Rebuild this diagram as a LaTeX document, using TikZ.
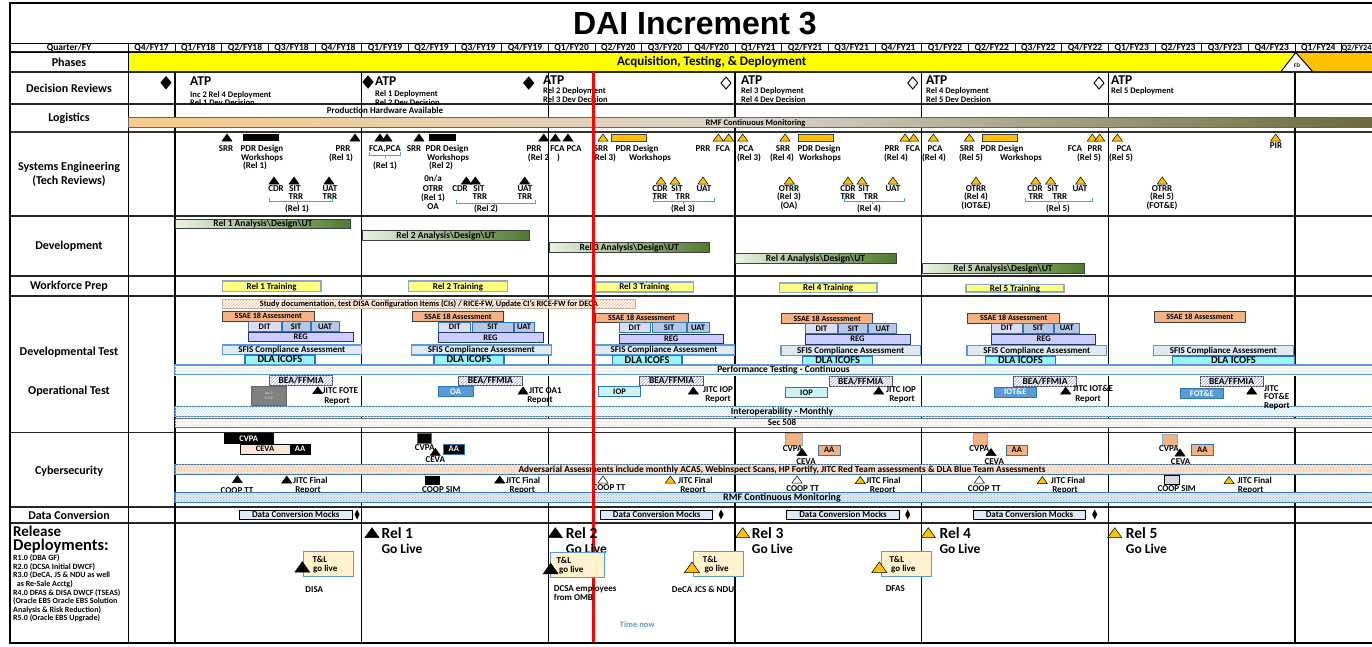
\documentclass[tikz,border=0pt]{standalone}
\usepackage{fontspec}
\setmainfont{Carlito}
\newfontfamily\titlefont{Liberation Sans}
\usetikzlibrary{patterns}

\definecolor{phaseyel}{HTML}{FFFF00}
\definecolor{phaseorg}{HTML}{FFC000}
\definecolor{msorg}{HTML}{FFC000}
\definecolor{logl}{HTML}{F8CB8C}
\definecolor{logm}{HTML}{D9D4CA}
\definecolor{logr}{HTML}{6B683A}
\definecolor{devl}{HTML}{EAF3E3}
\definecolor{devr}{HTML}{4E7A2C}
\definecolor{trainy}{HTML}{FFFF80}
\definecolor{bluegray}{HTML}{8FAAC8}
\definecolor{peach}{HTML}{F4B183}
\definecolor{lpeach}{HTML}{FBE5D6}
\definecolor{ditc}{HTML}{DCDCF7}
\definecolor{sitc}{HTML}{B4C7E7}
\definecolor{regc}{HTML}{CCCCFF}
\definecolor{navy}{HTML}{1F3864}
\definecolor{sfisc}{HTML}{DEEBF7}
\definecolor{midblue}{HTML}{5B9BD5}
\definecolor{darkblue}{HTML}{2E75B6}
\definecolor{icofsc}{HTML}{99F5F5}
\definecolor{iopc}{HTML}{CCF2F8}
\definecolor{beac}{HTML}{A6A6D9}
\definecolor{lblue}{HTML}{BDD7EE}
\definecolor{tlc}{HTML}{FFF2CC}
\definecolor{timered}{HTML}{FF0000}

\tikzset{
  rowline/.style={line width=1.2pt, draw=black!85},
  yearline/.style={line width=1.5pt, draw=black},
  rowlbl/.style={inner sep=0pt, align=center, font=\bfseries\fontsize{12}{14.5}\selectfont},
  qlbl/.style={inner sep=0pt, font=\bfseries\fontsize{9.5}{10}\selectfont, text height=6pt, text depth=0pt},
  mslbl/.style={inner sep=0pt, font=\bfseries\fontsize{9}{9}\selectfont, text height=5.8pt, text depth=0pt},
  leftlbl/.style={mslbl, anchor=west},
  atplbl/.style={inner sep=0pt, anchor=west, font=\bfseries\fontsize{13.5}{14}\selectfont, text height=8.7pt, text depth=0pt},
  declbl/.style={inner sep=0pt, anchor=west, font=\bfseries\fontsize{8.5}{9}\selectfont, text height=5.5pt, text depth=0pt},
  rellbl/.style={inner sep=0pt, anchor=west, font=\bfseries\fontsize{15.5}{16}\selectfont, text height=10pt, text depth=0pt},
  golbl/.style={inner sep=0pt, anchor=west, font=\bfseries\fontsize{13.5}{14}\selectfont, text height=8.7pt, text depth=0pt},
  bracecol/.style={draw=midblue, line width=0.6pt},
  taskbox/.style={draw, line width=0.8pt, inner sep=0pt, outer sep=0pt, font=\bfseries\fontsize{8.5}{9}\selectfont, text height=5.5pt, text depth=0pt},
  devbar/.style={taskbox, draw=black!75, left color=devl, right color=devr, font=\bfseries\fontsize{9.5}{9}\selectfont},
  trainbar/.style={taskbox, fill=trainy, draw=bluegray, line width=1.2pt, font=\bfseries\fontsize{9}{9}\selectfont},
  studybar/.style={taskbox, draw=black!30, fill=white, postaction={pattern=north east lines, pattern color=peach}, font=\bfseries\fontsize{8.3}{8}\selectfont},
  ssaebar/.style={taskbox, fill=peach, draw=black!75, font=\bfseries\fontsize{8}{8}\selectfont},
  ditbar/.style={taskbox, fill=ditc, draw=darkblue},
  sitbar/.style={taskbox, fill=sitc, draw=darkblue},
  regbar/.style={taskbox, fill=regc, draw=navy, line width=1pt},
  sfisbar/.style={taskbox, fill=sfisc, draw=midblue, line width=1.2pt, font=\bfseries\fontsize{9}{9}\selectfont},
  icofsbar/.style={taskbox, fill=icofsc, draw=darkblue, line width=1.2pt, font=\bfseries\fontsize{10.5}{9}\selectfont, text height=6pt},
  beabar/.style={taskbox, draw=black!70, fill=white, postaction={pattern=north east lines, pattern color=beac}, font=\bfseries\fontsize{9.5}{9}\selectfont},
  otbox/.style={taskbox, fill=midblue, draw=darkblue, text=white},
  iopbox/.style={taskbox, fill=iopc, draw=darkblue},
  longbar/.style={taskbox, line width=1.5pt},
  cvpabox/.style={taskbox, fill=black, draw=black, text=white},
  cevabox/.style={taskbox, fill=lpeach, draw=black},
  aabox/.style={taskbox, fill=peach, draw=darkblue, line width=1pt},
  mockbox/.style={taskbox, fill=sfisc, draw=black, line width=1pt, font=\bfseries\fontsize{9}{9}\selectfont},
  tlbox/.style={taskbox, fill=tlc, draw=midblue, line width=1pt}
}

% bar as a node: name, style, x1, x2, y1, y2, text
\newcommand{\taskbar}[7]{%
  \pgfmathsetmacro{\bw}{#4-#3}%
  \pgfmathsetmacro{\bh}{#6-#5}%
  \node[#2, anchor=north west, minimum width=\bw pt, minimum height=\bh pt] (#1) at (#3,#5) {#7};
}
% milestone triangle: [scale] x, top y, fill
\newcommand{\mstone}[4][1]{%
  \filldraw[fill=#4, draw=black, line width=0.5pt] (#2-5*#1,#3+7*#1) -- (#2,#3) -- (#2+5*#1,#3+7*#1) -- cycle;
}
% release bracket: x1, x2, middle, y
\newcommand{\relbrace}[4]{%
  \draw[bracecol] (#1,#4-3) -- (#1,#4) -- (#2,#4) -- (#2,#4-3) (#3,#4) -- (#3,#4+2.5);
}
\newcommand{\decdia}[3]{%
  \filldraw[fill=#3, draw=black, line width=0.9pt] (#1,#2-6) -- (#1+5,#2) -- (#1,#2+6) -- (#1-5,#2) -- cycle;
}
\newcommand{\mockdia}[2]{%
  \fill (#1,#2-5) -- (#1+2.5,#2) -- (#1,#2+5) -- (#1-2.5,#2) -- cycle;
}

\begin{document}
\begin{tikzpicture}[x=1pt,y=-1pt]
\useasboundingbox (0,0) rectangle (1372,646);
\clip (0,0) rectangle (1372,646);
\fill[white] (0,0) rectangle (1372,646);

% title
\node[inner sep=0pt, font=\titlefont\bfseries\fontsize{32}{32}\selectfont] (title) at (695,23.5) {DAI Increment 3};

% phases
\fill[phaseyel] (128.3,52) rectangle (1295,72);
\fill[phaseorg] (1295,52) rectangle (1380,72);
\filldraw[fill=white, draw=black, line width=1pt] (1280.7,72) -- (1295.7,52.5) -- (1313,72) -- cycle;
\node[inner sep=0pt, font=\bfseries\fontsize{5.5}{6}\selectfont] (fd) at (1297,66) {FD};
\node[inner sep=0pt, font=\bfseries\fontsize{13}{13}\selectfont] (phase) at (711.7,62) {Acquisition, Testing, \& Deployment};

% grid
\foreach \ry in {52,72,104,216,276,296,432.5,507,523}
  \draw[rowline] (10,\ry) -- (1380,\ry);
\draw[line width=2pt, draw=black!80] (10,132) -- (1380,132);
\draw[line width=1.5pt] (128.3,43) -- (128.3,643);
\foreach \yx in {175,361.6,548.3,735,921.7,1108.4,1295}
  \draw[yearline] (\yx,72) -- (\yx,643);

% quarter header
\draw[line width=0.8pt] (10,43) rectangle (128.3,52);
\node[qlbl] (qfy) at (69,47.7) {Quarter/FY};
\foreach \ql [count=\i from 0] in {Q4/FY17,Q1/FY18,Q2/FY18,Q3/FY18,Q4/FY18,Q1/FY19,Q2/FY19,Q3/FY19,Q4/FY19,Q1/FY20,Q2/FY20,Q3/FY20,Q4/FY20,Q1/FY21,Q2/FY21,Q3/FY21,Q4/FY21,Q1/FY22,Q2/FY22,Q3/FY22,Q4/FY22,Q1/FY23,Q2/FY23,Q3/FY23,Q4/FY23,Q1/FY24} {
  \pgfmathsetmacro{\qx}{128.3+46.67*\i}
  \draw[line width=0.8pt] (\qx,43) rectangle ++(46.67,9);
  \node[qlbl] (q\i) at (\qx+23.3,47.7) {\ql};
}
\draw[line width=0.8pt] (1341.7,43) rectangle ++(46.67,9);
\node[qlbl, font=\bfseries\fontsize{8.3}{9}\selectfont] (q26) at (1356.5,47.7) {Q2/FY24};

% row labels
\node[rowlbl] (lphase) at (69,62) {Phases};
\node[rowlbl] (ldec) at (69,88) {Decision Reviews};
\node[rowlbl] (llog) at (69,118) {Logistics};
\node[rowlbl] (lse) at (69,174) {Systems Engineering\\(Tech Reviews)};
\node[rowlbl] (ldev) at (69,246.7) {Development};
\node[rowlbl] (lwf) at (69,286.5) {Workforce Prep};
\node[rowlbl] (ldt) at (69,352.3) {Developmental Test};
\node[rowlbl] (lot) at (69,391.7) {Operational Test};
\node[rowlbl] (lcy) at (69,471) {Cybersecurity};
\node[rowlbl] (ldc) at (69,515) {Data Conversion};
\node[inner sep=0pt, anchor=west, font=\bfseries\fontsize{15}{15}\selectfont] (lrel) at (13,531) {Release};
\node[inner sep=0pt, anchor=west, font=\bfseries\fontsize{16.5}{16}\selectfont] (ldep) at (13,546) {Deployments:};
\node[inner sep=0pt, anchor=north west, align=left, font=\bfseries\fontsize{8}{8.6}\selectfont] (rdlist) at (13,554.5) {R1.0 (DBA GF)\\R2.0 (DCSA Initial DWCF)\\R3.0 (DeCA, JS \& NDU as well\\\ \ as Re-Sale Acctg)\\R4.0 DFAS \& DISA DWCF (TSEAS)\\(Oracle EBS Oracle EBS Solution\\Analysis \& Risk Reduction)\\R5.0 (Oracle EBS Upgrade)};

% decision reviews
\decdia{166}{82.7}{black}
\node[atplbl] (atp1) at (190,81.5) {ATP};
\node[declbl] (atp1a) at (190,95) {Inc 2 Rel 4 Deployment};
\node[declbl] (atp1b) at (190,102.5) {Rel 1 Dev Decision};
\decdia{368}{82}{black}
\node[atplbl] (atp2) at (375,81.5) {ATP};
\node[declbl] (atp2a) at (375,94) {Rel 1 Deployment};
\node[declbl] (atp2b) at (375,102.5) {Rel 2 Dev Decision};
\decdia{528.7}{83}{black}
\node[atplbl] (atp3) at (543,80) {ATP};
\node[declbl] (atp3a) at (543,91) {Rel 2 Deployment};
\node[declbl] (atp3b) at (543,100) {Rel 3 Dev Decision};
\decdia{726}{83}{white}
\node[atplbl] (atp4) at (741,80) {ATP};
\node[declbl] (atp4a) at (741,91) {Rel 3 Deployment};
\node[declbl] (atp4b) at (741,100) {Rel 4 Dev Decision};
\decdia{912.7}{83}{white}
\node[atplbl] (atp5) at (926,80) {ATP};
\node[declbl] (atp5a) at (926,91) {Rel 4 Deployment};
\node[declbl] (atp5b) at (926,100) {Rel 5 Dev Decision};
\decdia{1099}{83}{white}
\node[atplbl] (atp6) at (1111,80) {ATP};
\node[declbl] (atp6a) at (1111,91) {Rel 5 Deployment};

% logistics
\node[mslbl] (prodhw) at (385,111) {Production Hardware Available};
\taskbar{rmf}{taskbox, draw=black!60, line width=0.6pt, left color=logl, right color=logr, middle color=logm}{128.3}{1380}{117}{127.3}{}
\node[declbl, anchor=center] (rmft) at (755.5,122.3) {RMF Continuous Monitoring};

% systems engineering, release 1
\mstone{227}{134}{black}
\fill[black] (243,134) rectangle (279,141);
\node[mslbl] (srr1) at (226,149) {SRR};
\node[mslbl] (pdr1) at (262,149) {PDR Design};
\node[mslbl] (ws1) at (262,158) {Workshops};
\node[mslbl] (ws1r) at (255,166) {(Rel 1)};
\mstone{274}{177}{black}
\mstone{294}{177}{black}
\mstone{329}{177}{black}
\node[mslbl] (cdr1) at (276,189) {CDR};
\node[mslbl] (sit1) at (295,189) {SIT};
\node[mslbl] (sit1t) at (296,197) {TRR};
\node[mslbl] (uat1) at (330,189) {UAT};
\node[mslbl] (uat1t) at (330,197) {TRR};
\relbrace{269}{332}{297}{201}
\node[mslbl] (tr1r) at (297,209) {(Rel 1)};
\mstone{355}{134}{black}
\node[mslbl] (prr1) at (343,149) {PRR};
\node[mslbl] (prr1r) at (341,158) {(Rel 1)};
\mstone{380}{134}{black}
\mstone{387}{134}{black}
\node[mslbl] (fca1) at (385,149) {FCA,PCA};
\relbrace{369}{400}{385}{155}
\node[mslbl] (fca1r) at (385,166) {(Rel 1)};

% systems engineering, release 2
\mstone{419}{134}{black}
\fill[black] (428.7,134) rectangle (456.3,141);
\node[mslbl] (srr2) at (414,149) {SRR};
\node[mslbl] (pdr2) at (447,149) {PDR Design};
\node[mslbl] (ws2) at (448,158) {Workshops};
\node[mslbl] (ws2r) at (441,166) {(Rel 2)};
\node[mslbl] (otrr1n) at (433,179) {0n/a};
\node[mslbl] (otrr1) at (433,189) {OTRR};
\node[mslbl] (otrr1r) at (433,198) {(Rel 1)};
\node[mslbl] (otrr1o) at (433,207) {OA};
\mstone{466.3}{177}{black}
\mstone{475.3}{177}{black}
\mstone{524.7}{177}{black}
\node[mslbl] (cdr2) at (460,189) {CDR};
\node[mslbl] (sit2) at (479,189) {SIT};
\node[mslbl] (sit2t) at (480,197) {TRR};
\node[mslbl] (uat2) at (525,189) {UAT};
\node[mslbl] (uat2t) at (525,197) {TRR};
\relbrace{456}{535}{494}{203}
\node[mslbl] (tr2r) at (486,209) {(Rel 2)};
\mstone{543.7}{134}{black}
\mstone{555.3}{134}{black}
\mstone{568}{134}{black}
\node[mslbl] (prr2) at (534,149) {PRR};
\node[mslbl] (prr2r) at (544,158) {(Rel 2\ \ \ \ )};
\node[mslbl] (fca2) at (566,149) {FCA PCA};

% systems engineering, release 3
\mstone{603}{134}{msorg}
\filldraw[fill=msorg, draw=black!75, line width=0.8pt] (611.3,134) rectangle (646.3,141);
\node[mslbl] (srr3) at (601,149) {SRR};
\node[mslbl] (pdr3) at (637,149) {PDR Design};
\node[mslbl] (srr3r) at (604,158) {(Rel 3)};
\node[mslbl] (ws3) at (650,158) {Workshops};
\mstone{661}{177}{msorg}
\mstone{675}{177}{msorg}
\mstone{703}{177}{msorg}
\node[mslbl] (cdr3) at (660,189) {CDR};
\node[mslbl] (sit3) at (677,189) {SIT};
\node[mslbl] (uat3) at (704,189) {UAT};
\node[mslbl] (cdr3t) at (660,197) {TRR};
\node[mslbl] (sit3t) at (683,197) {TRR};
\relbrace{653}{714}{683}{201}
\node[mslbl] (tr3r) at (683,209) {(Rel 3)};
\mstone{718.3}{134}{msorg}
\mstone{728.7}{134}{msorg}
\node[mslbl] (prr3) at (703,149) {PRR};
\node[mslbl] (fca3) at (723,149) {FCA};
\mstone{742.7}{134}{msorg}
\node[mslbl] (pca3) at (746,149) {PCA};
\node[mslbl] (pca3r) at (749,158) {(Rel 3)};

% systems engineering, release 4
\mstone{785}{134}{msorg}
\filldraw[fill=msorg, draw=black!75, line width=0.8pt] (798.3,134) rectangle (833.7,141);
\node[mslbl] (srr4) at (783,149) {SRR};
\node[mslbl] (pdr4) at (819,149) {PDR Design};
\node[mslbl] (srr4r) at (782,158) {(Rel 4)};
\node[mslbl] (ws4) at (820,158) {Workshops};
\mstone{789.3}{177}{msorg}
\node[mslbl] (otrr3) at (789,189) {OTRR};
\node[mslbl] (otrr3r) at (789,197) {(Rel 3)};
\node[mslbl] (otrr3o) at (789,206) {(OA)};
\mstone{848}{177}{msorg}
\mstone{862}{177}{msorg}
\mstone{893}{177}{msorg}
\node[mslbl] (cdr4) at (848,189) {CDR};
\node[mslbl] (sit4) at (864,189) {SIT};
\node[mslbl] (uat4) at (893,189) {UAT};
\node[mslbl] (cdr4t) at (848,197) {TRR};
\node[mslbl] (sit4t) at (871,197) {TRR};
\relbrace{844}{904}{872}{201}
\node[mslbl] (tr4r) at (869,209) {(Rel 4)};
\mstone{905}{134}{msorg}
\mstone{913.7}{134}{msorg}
\node[mslbl] (prr4) at (892,149) {PRR};
\node[mslbl] (fca4) at (913,149) {FCA};
\node[mslbl] (prr4r) at (896,158) {(Rel 4)};
\mstone{933.3}{134}{msorg}
\node[mslbl] (pca4) at (935,149) {PCA};
\node[mslbl] (pca4r) at (934,158) {(Rel 4)};

% systems engineering, release 5
\mstone{969.3}{134}{msorg}
\filldraw[fill=msorg, draw=black!75, line width=0.8pt] (982.7,134) rectangle (1017.7,141);
\node[mslbl] (srr5) at (967,149) {SRR};
\node[mslbl] (pdr5) at (1002,149) {PDR Design};
\node[mslbl] (srr5r) at (971,158) {(Rel 5)};
\node[mslbl] (ws5) at (1021,158) {Workshops};
\mstone{976}{177}{msorg}
\node[mslbl] (otrr4) at (976,189) {OTRR};
\node[mslbl] (otrr4r) at (976,197) {(Rel 4)};
\node[mslbl] (otrr4o) at (976,206) {(IOT\&E)};
\mstone{1035.7}{177}{msorg}
\mstone{1050.7}{177}{msorg}
\mstone{1080.7}{177}{msorg}
\node[mslbl] (cdr5) at (1035,189) {CDR};
\node[mslbl] (sit5) at (1053,189) {SIT};
\node[mslbl] (uat5) at (1080,189) {UAT};
\node[mslbl] (cdr5t) at (1036,197) {TRR};
\node[mslbl] (sit5t) at (1060,197) {TRR};
\relbrace{1025}{1092}{1058}{201}
\node[mslbl] (tr5r) at (1058,209) {(Rel 5)};
\mstone{1092.3}{134}{msorg}
\mstone{1099.7}{134}{msorg}
\node[mslbl] (fca5) at (1075,149) {FCA};
\node[mslbl] (prr5) at (1095,149) {PRR};
\node[mslbl] (prr5r) at (1089,158) {(Rel 5)};
\mstone{1117.3}{134}{msorg}
\node[mslbl] (pca5) at (1124,149) {PCA};
\node[mslbl] (pca5r) at (1121,158) {(Rel 5)};
\mstone{1162.3}{177}{msorg}
\node[mslbl] (otrr5) at (1162,189) {OTRR};
\node[mslbl] (otrr5r) at (1162,197) {(Rel 5)};
\node[mslbl] (otrr5o) at (1162,206) {(FOT\&E)};
\mstone{1275.7}{134}{msorg}
\node[mslbl] (pir) at (1276,146) {PIR};

% development
\taskbar{dev1}{devbar}{175.5}{350.3}{219}{228}{Rel 1 Analysis\textbackslash Design\textbackslash UT}
\taskbar{dev2}{devbar}{362.3}{529.7}{230.7}{240.7}{Rel 2 Analysis\textbackslash Design\textbackslash UT}
\taskbar{dev3}{devbar}{549}{709.3}{242.3}{252.3}{Rel 3 Analysis\textbackslash Design\textbackslash UT}
\taskbar{dev4}{devbar}{735}{896}{253.3}{263.3}{Rel 4 Analysis\textbackslash Design\textbackslash UT}
\taskbar{dev5}{devbar}{922}{1084}{263.3}{273.3}{Rel 5 Analysis\textbackslash Design\textbackslash UT}

% workforce prep
\taskbar{trn1}{trainbar}{222.3}{321}{281}{291.7}{Rel 1 Training}
\taskbar{trn2}{trainbar}{408.7}{507.3}{281}{291.7}{Rel 2 Training}
\taskbar{trn3}{trainbar}{595.3}{693.3}{282}{292}{Rel 3 Training}
\taskbar{trn4}{trainbar}{779.3}{877}{283}{292.5}{Rel 4 Training}
\taskbar{trn5}{trainbar}{966}{1064}{284.5}{292}{Rel 5 Training}

% developmental test
\taskbar{study}{studybar}{222.3}{635.3}{299}{308.3}{Study documentation, test DISA Configuration Items (CIs) / RICE-FW, Update CI's RICE-FW for DECA}
\taskbar{ssae1}{ssaebar}{222.3}{314.3}{311}{321}{SSAE 18 Assessment}
\taskbar{ssae2}{ssaebar}{412.3}{503.7}{311.7}{321.7}{SSAE 18 Assessment}
\taskbar{ssae3}{ssaebar}{595.3}{688}{313}{322}{SSAE 18 Assessment}
\taskbar{ssae4}{ssaebar}{781.7}{872.7}{313.3}{323.3}{SSAE 18 Assessment}
\taskbar{ssae5}{ssaebar}{967.7}{1059.7}{313}{323}{SSAE 18 Assessment}
\taskbar{ssae6}{ssaebar}{1154}{1245.7}{311.7}{322.3}{SSAE 18 Assessment}
\taskbar{dit1}{ditbar}{248.3}{281}{321.7}{331.7}{DIT}
\taskbar{sit1b}{sitbar}{282.3}{310}{321.7}{331.7}{SIT}
\taskbar{uat1b}{sitbar}{311}{339.3}{321.7}{331.7}{UAT}
\taskbar{dit2}{ditbar}{438.7}{470.7}{322}{332}{DIT}
\taskbar{sit2b}{sitbar}{472}{513}{322}{332}{SIT}
\taskbar{uat2b}{sitbar}{514}{534}{322}{332}{UAT}
\taskbar{dit3}{ditbar}{619}{650.3}{322.7}{332.7}{DIT}
\taskbar{sit3b}{sitbar}{652}{686}{322.7}{332.7}{SIT}
\taskbar{uat3b}{sitbar}{687}{709.3}{322.7}{332.7}{UAT}
\taskbar{dit4}{ditbar}{805.3}{837.7}{323.3}{333.3}{DIT}
\taskbar{sit4b}{sitbar}{838.7}{867.7}{323.3}{333.3}{SIT}
\taskbar{uat4b}{sitbar}{868.7}{896.7}{323.3}{333.3}{UAT}
\taskbar{dit5}{ditbar}{991.7}{1022}{323}{333}{DIT}
\taskbar{sit5b}{sitbar}{1023}{1053}{323}{333}{SIT}
\taskbar{uat5b}{sitbar}{1054}{1079.7}{323}{333}{UAT}
\taskbar{reg1}{regbar}{248.3}{353}{332.3}{341.7}{REG}
\taskbar{reg2}{regbar}{438}{543}{332.3}{342.3}{REG}
\taskbar{reg3}{regbar}{619}{723.3}{334}{343}{REG}
\taskbar{reg4}{regbar}{805}{910}{334}{344}{REG}
\taskbar{reg5}{regbar}{991.7}{1095.7}{334}{344}{REG}
\taskbar{sfis1}{sfisbar}{222.3}{361.3}{345}{354.3}{SFIS Compliance Assessment}
\taskbar{sfis2}{sfisbar}{411.3}{551.3}{345}{355}{SFIS Compliance Assessment}
\taskbar{sfis3}{sfisbar}{593.7}{734.3}{345}{355}{SFIS Compliance Assessment}
\taskbar{sfis4}{sfisbar}{781}{920.3}{345.7}{355.7}{SFIS Compliance Assessment}
\taskbar{sfis5}{sfisbar}{967}{1106.7}{345.7}{355.7}{SFIS Compliance Assessment}
\taskbar{sfis6}{sfisbar}{1153.3}{1293.3}{345.7}{355.7}{SFIS Compliance Assessment}
\taskbar{dla1}{icofsbar}{245}{315}{355}{364.3}{DLA ICOFS}
\taskbar{dla2}{icofsbar}{434}{504}{355}{364.3}{DLA ICOFS}
\taskbar{dla3}{icofsbar}{612.3}{682}{355.5}{365}{DLA ICOFS}
\taskbar{dla4}{icofsbar}{802.7}{872.7}{356}{365}{DLA ICOFS}
\taskbar{dla5}{icofsbar}{985.3}{1055.7}{356}{365}{DLA ICOFS}
\taskbar{dla6}{icofsbar}{1172.3}{1294.7}{356}{365}{DLA ICOFS}
\taskbar{perf}{longbar, draw=midblue, fill=black!6, postaction={pattern=horizontal lines, pattern color=white}}{175}{1380}{365}{375}{}
\node[mslbl, font=\bfseries\fontsize{9.5}{9}\selectfont] (perft) at (783.5,370) {Performance Testing - Continuous};
\taskbar{interop}{longbar, draw=darkblue, fill=white, postaction={pattern=north east lines, pattern color=lblue}}{175}{1380}{406.7}{416.7}{}
\node[mslbl, font=\bfseries\fontsize{9.5}{9}\selectfont] (interopt) at (782,411.7) {Interoperability - Monthly};
\taskbar{sec508}{taskbox, draw=black!55, fill=black!6, postaction={pattern=horizontal lines, pattern color=white}}{175}{1380}{418.3}{427.7}{}
\node[mslbl] (sec508t) at (782,423) {Sec 508};

% operational test
\taskbar{bea1}{beabar}{269.3}{332.7}{375.7}{385}{BEA/FFMIA}
\taskbar{bea2}{beabar}{458.7}{522}{376}{385.5}{BEA/FFMIA}
\taskbar{bea3}{beabar}{639.7}{703.3}{376}{385.5}{BEA/FFMIA}
\taskbar{bea4}{beabar}{829.3}{892}{376.5}{386}{BEA/FFMIA}
\taskbar{bea5}{beabar}{1013.7}{1076.3}{376.5}{386}{BEA/FFMIA}
\taskbar{bea6}{beabar}{1200}{1263}{376.5}{386}{BEA/FFMIA}
\taskbar{fote}{taskbox, fill=black!50, draw=black!60, align=center, text=black!25, font=\bfseries\fontsize{4}{4.5}\selectfont, text height=, text depth=}{251}{286.7}{386}{405.7}{Inc 2\\FOTE}
\mstone{317.7}{386.7}{black}
\node[leftlbl] (jfote) at (322.5,390.5) {JITC FOTE};
\node[mslbl] (jfoter) at (337,400.5) {Report};
\taskbar{oa}{otbox}{438}{473}{386.7}{396.7}{OA}
\mstone{523}{387}{black}
\node[leftlbl] (joa) at (529,390.5) {JITC OA1};
\node[mslbl] (joar) at (540,400) {Report};
\taskbar{iop3}{iopbox}{598.7}{640.3}{386.5}{396.5}{IOP}
\mstone{693.3}{387}{black}
\node[leftlbl] (jiop3) at (703,389.5) {JITC IOP};
\node[mslbl] (jiop3r) at (718,398.5) {Report};
\taskbar{iop4}{iopbox}{785.3}{827.7}{387.3}{397.3}{IOP}
\mstone{878.7}{387}{black}
\node[leftlbl] (jiop4) at (886,389.5) {JITC IOP};
\node[mslbl] (jiop4r) at (902,398.5) {Report};
\taskbar{iote}{otbox}{994.3}{1036.3}{387}{397}{IOT\&E}
\mstone{1065.7}{387}{black}
\node[leftlbl] (jiote) at (1073,389) {JITC IOT\&E};
\node[mslbl] (jioter) at (1088,398.5) {Report};
\taskbar{fotebox}{otbox}{1180.7}{1223}{388.3}{398.3}{FOT\&E}
\mstone{1251.7}{387}{black}
\node[leftlbl] (jfot) at (1264,388.5) {JITC};
\node[leftlbl] (jfot2) at (1264,397) {FOT\&E};
\node[leftlbl] (jfot3) at (1264,405.5) {Report};

% cybersecurity
\taskbar{cvpa1}{cvpabox}{224}{273.3}{433.3}{443.3}{CVPA}
\taskbar{ceva1}{cevabox}{240}{290}{444}{454}{CEVA}
\taskbar{aa1}{cvpabox}{290}{310}{444}{454}{AA}
\taskbar{cvpa2}{cvpabox, draw=darkblue}{417}{431.3}{433.3}{443.3}{}
\node[mslbl] (cvpa2t) at (424.7,447.3) {CVPA};
\mstone{435.3}{448.3}{black}
\node[mslbl] (ceva2t) at (435.3,460) {CEVA};
\taskbar{aa2}{cvpabox, draw=darkblue}{443}{464.7}{444}{454}{AA}
\taskbar{cvpa4}{aabox, draw=bluegray}{785}{802}{433.3}{445}{}
\node[mslbl] (cvpa4t) at (792.7,448.3) {CVPA};
\mstone{802}{448.5}{black}
\node[mslbl] (ceva4t) at (806,461.7) {CEVA};
\taskbar{aa4}{aabox}{818.3}{840}{445}{455}{AA}
\taskbar{cvpa5}{aabox, draw=bluegray}{973.3}{987.7}{433.3}{445}{}
\node[mslbl] (cvpa5t) at (979.3,448.3) {CVPA};
\mstone{991}{448.5}{black}
\node[mslbl] (ceva5t) at (994.3,461.7) {CEVA};
\taskbar{aa5}{aabox}{1006}{1027.7}{445}{455}{AA}
\taskbar{cvpa6}{aabox, draw=bluegray}{1162.3}{1177.3}{434}{445}{}
\node[mslbl] (cvpa6t) at (1169,448.3) {CVPA};
\mstone{1180}{449}{black}
\node[mslbl] (ceva6t) at (1180.7,462) {CEVA};
\taskbar{aa6}{aabox}{1191.3}{1213.3}{444}{455}{AA}
\taskbar{advers}{longbar, draw=darkblue, fill=lpeach, postaction={pattern=crosshatch dots, pattern color=peach}}{175}{1380}{464.3}{474.3}{}
\node[mslbl, font=\bfseries\fontsize{9.3}{9}\selectfont] (adverst) at (782,469.3) {Adversarial Assessments include monthly ACAS, Webinspect Scans, HP Fortify, JITC Red Team assessments \& DLA Blue Team Assessments};
\mstone{237.3}{475.7}{black}
\node[mslbl] (coop1) at (237,490.5) {COOP TT};
\mstone{286.7}{476}{black}
\node[leftlbl] (jfin1) at (293,480.7) {JITC Final};
\node[mslbl] (jfin1r) at (308,490) {Report};
\fill[black] (424.7,475.7) rectangle (439.7,485);
\node[mslbl] (coop2) at (441.3,490) {COOP SIM};
\mstone{499.7}{476}{black}
\node[leftlbl] (jfin2) at (505.7,480.7) {JITC Final};
\node[mslbl] (jfin2r) at (522.3,490) {Report};
\mstone{603}{476}{white}
\node[mslbl] (coop3) at (609,488) {COOP TT};
\mstone{670.3}{476}{msorg}
\node[leftlbl] (jfin3) at (678,480.7) {JITC Final};
\node[mslbl] (jfin3r) at (693,489.5) {Report};
\mstone{797}{476}{white}
\node[mslbl] (coop4) at (802.7,489) {COOP TT};
\mstone{860.3}{476.5}{msorg}
\node[leftlbl] (jfin4) at (866,481) {JITC Final};
\node[mslbl] (jfin4r) at (882.7,490) {Report};
\mstone{979.3}{476}{white}
\node[mslbl] (coop5) at (984.3,489) {COOP TT};
\mstone{1042.3}{476.5}{msorg}
\node[leftlbl] (jfin5) at (1050.7,481) {JITC Final};
\node[mslbl] (jfin5r) at (1065,490) {Report};
\filldraw[fill=black!15, draw=black, line width=0.6pt] (1164,475) rectangle (1179,484.3);
\node[mslbl] (coop6) at (1176.7,488.5) {COOP SIM};
\mstone{1229}{476.5}{msorg}
\node[leftlbl] (jfin6) at (1237.3,481) {JITC Final};
\node[mslbl] (jfin6r) at (1250.7,490) {Report};
\taskbar{rmfcy}{longbar, line width=1.2pt, draw=darkblue, fill=sfisc, postaction={pattern=crosshatch dots, pattern color=lblue!80!black}}{175}{1380}{492.7}{502.7}{}
\node[mslbl, font=\bfseries\fontsize{10}{10}\selectfont] (rmfcyt) at (782,497.7) {RMF Continuous Monitoring};

% data conversion
\taskbar{mock1}{mockbox}{239.3}{352.3}{510}{519}{Data Conversion Mocks}
\mockdia{357}{514.5}
\taskbar{mock3}{mockbox}{600.7}{712.7}{510}{519}{Data Conversion Mocks}
\mockdia{721}{514.5}
\taskbar{mock4}{mockbox}{786.7}{899.3}{510}{519}{Data Conversion Mocks}
\mockdia{907.7}{514.5}
\taskbar{mock5}{mockbox}{973.3}{1085.7}{510}{519}{Data Conversion Mocks}
\mockdia{1094.7}{514.5}

% time now
\draw[timered, line width=3pt] (593,72) -- (593,643);
\node[inner sep=0pt, text=midblue, font=\bfseries\fontsize{8.5}{9}\selectfont] (tnow) at (637.3,625) {Time now};

% release deployments
\mstone[1.4]{372}{527.7}{black}
\node[rellbl] (rel1) at (381.3,533.5) {Rel 1};
\node[golbl] (go1) at (381.3,549.3) {Go Live};
\taskbar{tl1}{tlbox}{303.3}{353}{551.7}{576.7}{}
\node[leftlbl] (tl1a) at (312.3,560) {T\&L};
\node[leftlbl] (tl1b) at (313,569) {go live};
\mstone[1.5]{302.3}{561.7}{black}
\node[mslbl] (disa) at (314.3,589.3) {DISA};
\mstone[1.4]{555.3}{527.7}{black}
\node[rellbl] (rel2) at (565.7,533.5) {Rel 2};
\node[golbl] (go2) at (565.7,549.3) {Go Live};
\taskbar{tl2}{tlbox}{550.3}{604.7}{552.7}{577.7}{}
\node[leftlbl] (tl2a) at (556.3,561) {T\&L};
\node[leftlbl] (tl2b) at (559,569.5) {go live};
\mstone[1.5]{550.7}{563.3}{black}
\node[leftlbl] (dcsa) at (553.7,588.7) {DCSA employees};
\node[leftlbl] (dcsa2) at (553.7,597.3) {from OMB};
\mstone[1.4]{742.7}{527.7}{msorg}
\node[rellbl] (rel3) at (751.7,533.5) {Rel 3};
\node[golbl] (go3) at (751.7,549.3) {Go Live};
\taskbar{tl3}{tlbox}{693.3}{743.3}{551.7}{576.7}{}
\node[leftlbl] (tl3a) at (702.7,560) {T\&L};
\node[leftlbl] (tl3b) at (704.3,569) {go live};
\mstone[1.5]{692}{562}{msorg}
\node[mslbl] (deca) at (703,589.3) {DeCA JCS \& NDU};
\mstone[1.4]{928.3}{527.7}{msorg}
\node[rellbl] (rel4) at (939.3,533.5) {Rel 4};
\node[golbl] (go4) at (939.3,549.3) {Go Live};
\taskbar{tl4}{tlbox}{881.7}{931}{551.7}{576.7}{}
\node[leftlbl] (tl4a) at (889.3,560) {T\&L};
\node[leftlbl] (tl4b) at (891,569) {go live};
\mstone[1.5]{879.3}{562}{msorg}
\node[mslbl] (dfas) at (895.3,589) {DFAS};
\mstone[1.4]{1114.7}{527.7}{msorg}
\node[rellbl] (rel5) at (1125.7,533.5) {Rel 5};
\node[golbl] (go5) at (1125.7,549.3) {Go Live};

% frame
\draw[line width=1.6pt] (10,3) rectangle (1385,643);
\end{tikzpicture}
\end{document}
